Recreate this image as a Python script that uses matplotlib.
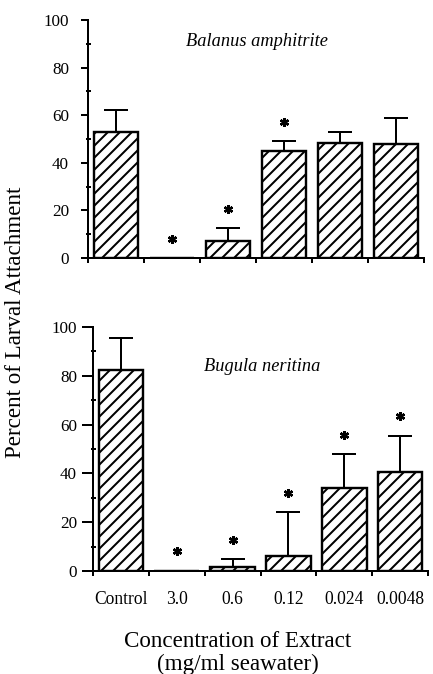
import numpy as np
import matplotlib
matplotlib.use("Agg")
import matplotlib.pyplot as plt

# concentrations (mg/ml seawater)
categories = ["Control", "3.0", "0.6", "0.12", "0.024", "0.0048"]

# Balanus amphitrite
bal_mean = [53, 0, 7, 45, 48.5, 48]
bal_err = [9, 0, 5.5, 4, 4.5, 11]
bal_sig = [False, True, True, True, False, False]

# Bugula neritina
bug_mean = [82.5, 0, 1.5, 6.3, 34, 40.5]
bug_err = [13, 0, 3.3, 17.7, 13.8, 15]
bug_sig = [False, True, True, True, True, True]

plt.rcParams['font.family'] = ['Liberation Serif', 'DejaVu Serif']
plt.rcParams['hatch.linewidth'] = 1.0

fig = plt.figure(figsize=(433 / 144, 674 / 144), dpi=144)
ax1 = fig.add_axes([88 / 433, 1 - 258 / 674, 336 / 433, 238 / 674])
ax2 = fig.add_axes([93 / 433, 1 - 571 / 674, 335 / 433, 244 / 674])


def panel(ax, mean, err, sig, name, name_xy, ticklen, ypad):
    x = np.arange(len(categories))
    mean = np.array(mean, dtype=float)
    err = np.array(err, dtype=float)
    ax.bar(x, mean, width=0.8, color="white", edgecolor="black",
           linewidth=1.2, hatch="////", zorder=2)
    has = err > 0
    ax.errorbar(x[has], mean[has], yerr=[np.zeros(has.sum()), err[has]],
                fmt="none", ecolor="black", elinewidth=1.0, capsize=6,
                capthick=1.0, zorder=1)
    # significance stars
    for xi, m, e, s in zip(x, mean, err, sig):
        if s:
            ax.plot(xi, m + e + 8, marker=(6, 2, 0), ms=4.5, mew=1.2,
                    color="black", clip_on=False)
    ax.text(name_xy[0], name_xy[1], name, style="italic", fontsize=9.2,
            ha="center", va="center")

    ax.set_xlim(-0.5, len(categories) - 0.5)
    ax.set_ylim(0, 100)
    ax.spines["top"].set_visible(False)
    ax.spines["right"].set_visible(False)
    ax.spines["left"].set_linewidth(1.0)
    ax.spines["bottom"].set_linewidth(1.0)
    ax.set_yticks([0, 20, 40, 60, 80, 100])
    ax.set_yticks(np.arange(10, 100, 20), minor=True)
    ax.tick_params(axis="y", which="major", direction="out", length=ticklen,
                   width=1.0, labelsize=8.5, pad=ypad)
    ax.tick_params(axis="y", which="minor", direction="inout", length=2.5,
                   width=1.0)
    ax.set_xticks(x)
    ax.set_xticks(np.arange(-0.5, len(categories), 1.0), minor=True)
    ax.tick_params(axis="x", which="major", length=0)
    ax.tick_params(axis="x", which="minor", direction="out", length=2.5,
                   width=1.0)


panel(ax1, bal_mean, bal_err, bal_sig, "Balanus amphitrite", (2.52, 91), 3.5, 6)
panel(ax2, bug_mean, bug_err, bug_sig, "Bugula neritina", (2.53, 84), 5.5, 2.5)

ax1.set_xticklabels([])
ax2.set_xticklabels(categories, fontsize=8.75)
ax2.tick_params(axis="x", which="major", pad=10)

ax2.set_xlabel("Concentration of Extract\n(mg/ml seawater)", fontsize=11.5,
               linespacing=1.1)
ax2.xaxis.set_label_coords((238 - 93) / 335, -(663 - 571) / 244 - 0.05)
ax2.xaxis.label.set_va("bottom")

fig.text(16 / 433, 1 - 322 / 674, "Percent of Larval Attachment",
         rotation=90, ha="center", va="center", fontsize=11.5)

fig.savefig("out.png", dpi=144)
